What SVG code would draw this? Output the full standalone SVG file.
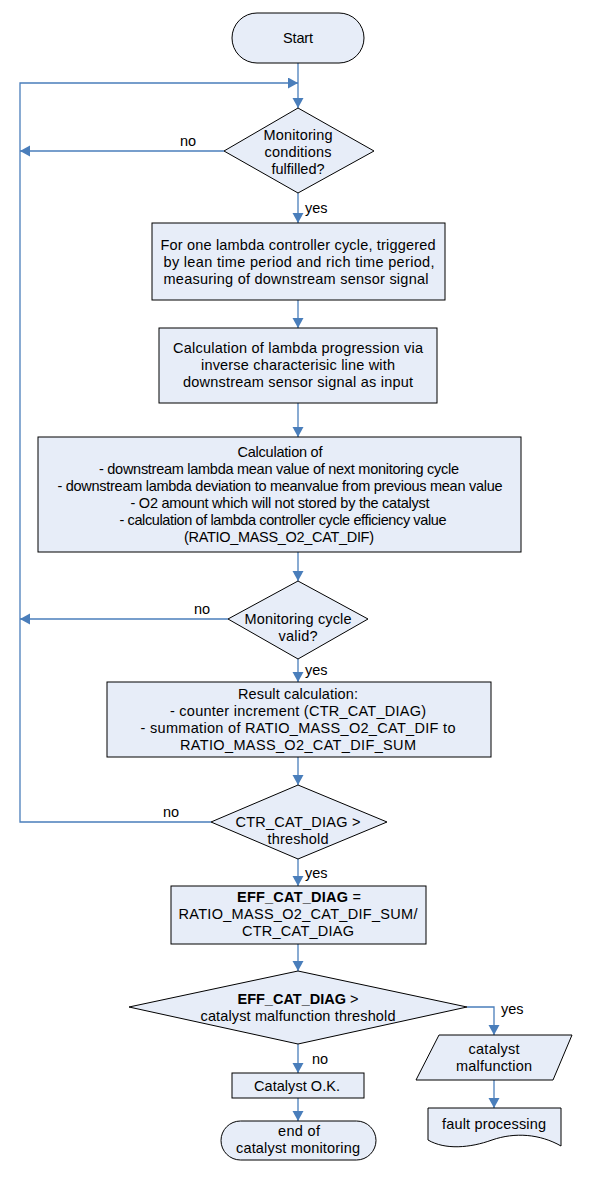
<svg xmlns="http://www.w3.org/2000/svg" width="595" height="1178" viewBox="0 0 595 1178">
<defs>
<marker id="arr" markerUnits="userSpaceOnUse" markerWidth="12" markerHeight="12" refX="10" refY="5.5" orient="auto">
<path d="M0,0 L10,5.5 L0,11 Z" fill="#4A7EBB"/>
</marker>
<style>
.n{fill:#E7EDF8;stroke:#000;stroke-width:1}
.c{fill:none;stroke:#4A7EBB;stroke-width:1.3}
.a{marker-end:url(#arr)}
text{font-family:"Liberation Sans",Arial,sans-serif;font-size:14.5px;fill:#000}
.m{text-anchor:middle}
.b{font-weight:bold}
</style>
</defs>
<rect width="595" height="1178" fill="#fff"/>
<g id="connectors">
<path class="c a" d="M298,63 V108"/>
<path class="c a" d="M211,822 H20 V83 H298"/>
<path class="c a" d="M224,151 H20"/>
<path class="c a" d="M228,619 H20"/>
<path class="c a" d="M298,193 V223"/>
<path class="c a" d="M298,300 V328"/>
<path class="c a" d="M298,403 V437"/>
<path class="c a" d="M298,552 V581"/>
<path class="c a" d="M298,659 V682"/>
<path class="c a" d="M298,757 V785"/>
<path class="c a" d="M298,859 V886"/>
<path class="c a" d="M298,944 V971"/>
<path class="c a" d="M298,1044 V1073"/>
<path class="c a" d="M298,1098 V1121"/>
<path class="c a" d="M467,1007 H494 V1035"/>
<path class="c a" d="M494,1080 V1108"/>
<text x="188" y="146" class="m">no</text>
<text x="305" y="213">yes</text>
<text x="202" y="614" class="m">no</text>
<text x="305" y="675">yes</text>
<text x="171" y="817" class="m">no</text>
<text x="305" y="878">yes</text>
<text x="501" y="1014">yes</text>
<text x="320" y="1064" class="m">no</text>
</g>
<g id="start">
<rect class="n" x="232" y="13" width="132" height="50" rx="25" ry="25"/>
<text x="298" y="43" class="m" textLength="30">Start</text>
</g>
<g id="d1">
<polygon class="n" points="298,108 374,151 298,193 224,151"/>
<text class="m" x="298" y="140" textLength="69">Monitoring</text>
<text class="m" x="298" y="157" textLength="67">conditions</text>
<text class="m" x="298" y="174" textLength="53">fulfilled?</text>
</g>
<g id="box1">
<rect class="n" x="152" y="223" width="293" height="77"/>
<text class="m" x="298" y="250" textLength="275">For one lambda controller cycle, triggered</text>
<text class="m" x="299" y="267" textLength="271">by lean time period and rich time period,</text>
<text class="m" x="296" y="284" textLength="265">measuring of downstream sensor signal</text>
</g>
<g id="box2">
<rect class="n" x="159" y="328" width="278" height="75"/>
<text class="m" x="298" y="353" textLength="250">Calculation of lambda progression via</text>
<text class="m" x="298" y="370" textLength="194">inverse characterisic line with</text>
<text class="m" x="298" y="387" textLength="230">downstream sensor signal as input</text>
</g>
<g id="box3">
<rect class="n" x="38" y="437" width="483" height="115"/>
<text class="m" x="280" y="457" textLength="85">Calculation of</text>
<text class="m" x="279" y="474" textLength="360">- downstream lambda mean value of next monitoring cycle</text>
<text class="m" x="280" y="491" textLength="445">- downstream lambda deviation to meanvalue from previous mean value</text>
<text class="m" x="280" y="508" textLength="299">- O2 amount which will not stored by the catalyst</text>
<text class="m" x="283" y="525" textLength="327">- calculation of lambda controller cycle efficiency value</text>
<text class="m" x="279" y="542" textLength="190">(RATIO_MASS_O2_CAT_DIF)</text>
</g>
<g id="d2">
<polygon class="n" points="298,581 368,619 298,659 228,619"/>
<text class="m" x="298" y="624" textLength="107">Monitoring cycle</text>
<text class="m" x="298" y="641" textLength="39">valid?</text>
</g>
<g id="box4">
<rect class="n" x="107" y="682" width="384" height="75"/>
<text class="m" x="298" y="699" textLength="120">Result calculation:</text>
<text class="m" x="298" y="716" textLength="256">- counter increment (CTR_CAT_DIAG)</text>
<text class="m" x="298" y="733" textLength="315">- summation of RATIO_MASS_O2_CAT_DIF to</text>
<text class="m" x="298" y="750" textLength="236">RATIO_MASS_O2_CAT_DIF_SUM</text>
</g>
<g id="d3">
<polygon class="n" points="298,785 387,822 298,859 211,822"/>
<text class="m" x="298" y="827" textLength="125">CTR_CAT_DIAG &gt;</text>
<text class="m" x="298" y="844" textLength="61">threshold</text>
</g>
<g id="box5">
<rect class="n" x="171" y="886" width="255" height="58"/>
<text class="m" x="299" y="902" textLength="124"><tspan class="b">EFF_CAT_DIAG</tspan> =</text>
<text class="m" x="298" y="919" textLength="239">RATIO_MASS_O2_CAT_DIF_SUM/</text>
<text class="m" x="298" y="936" textLength="112">CTR_CAT_DIAG</text>
</g>
<g id="d4">
<polygon class="n" points="298,971 467,1007 298,1044 129,1007"/>
<text class="m" x="298" y="1004" textLength="121"><tspan class="b">EFF_CAT_DIAG</tspan> &gt;</text>
<text class="m" x="298" y="1021" textLength="195">catalyst malfunction threshold</text>
</g>
<g id="ok">
<rect class="n" x="232" y="1073" width="132" height="25"/>
<text class="m" x="297" y="1091" textLength="86">Catalyst O.K.</text>
</g>
<g id="end">
<rect class="n" x="221" y="1121" width="155" height="39" rx="19.5" ry="19.5"/>
<text class="m" x="299" y="1136" textLength="42">end of</text>
<text class="m" x="298" y="1153" textLength="124">catalyst monitoring</text>
</g>
<g id="malfunction">
<polygon class="n" points="439,1035 572,1035 553,1080 416,1080"/>
<text class="m" x="494" y="1054" textLength="51">catalyst</text>
<text class="m" x="494" y="1071" textLength="76">malfunction</text>
</g>
<g id="fault">
<path class="n" d="M428,1108 H561 V1146 C540,1134 515,1132 492,1140 C470,1148 445,1150 428,1140 Z"/>
<text class="m" x="494" y="1129" textLength="104">fault processing</text>
</g>
</svg>
